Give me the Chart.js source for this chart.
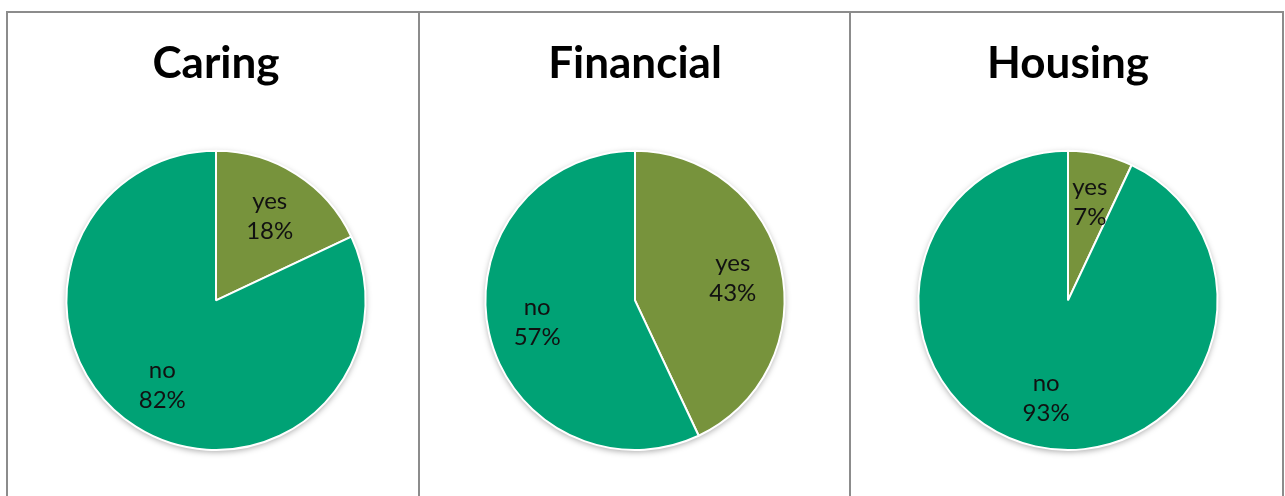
<!DOCTYPE html>
<html>
<head>
<meta charset="utf-8">
<script src="https://cdn.jsdelivr.net/npm/chart.js@4/dist/chart.umd.min.js"></script>
<style>
    body { margin: 0; background: #fff; width: 1285px; height: 496px; overflow: hidden; position: relative; }
    .panel { position: absolute; top: 11px; height: 500px; box-sizing: border-box;
             border: 2px solid #8c8c8c; border-bottom: none; }
    .panel canvas { display: block; }
</style>
</head>
<body>
<div class="panel" style="left:6px; width:414px;"><canvas id="pie1" width="410" height="483"></canvas></div>
<div class="panel" style="left:418px; width:433px;"><canvas id="pie2" width="429" height="483"></canvas></div>
<div class="panel" style="left:849px; width:435px;"><canvas id="pie3" width="431" height="483"></canvas></div>
<script>
/*
    three pies: share of "yes" / "no" answers per topic
*/
const sliceLabels = ["yes", "no"];
const caringValues = [18, 82];
const financialValues = [43, 57];
const housingValues = [7, 93];
const sliceColors = ["#77933C", "#00A275"];

/*
    pieShadow - soft shadow round the whole pie, drawn behind the slices
*/
const pieShadow = {
    id: "pieShadow",
    beforeDatasetsDraw(chart) {
        const arc = chart.getDatasetMeta(0).data[0];
        if (!arc) return;
        const p = arc.getProps(["x", "y", "outerRadius"], true);
        const ctx = chart.ctx;
        ctx.save();
        ctx.shadowColor = "rgba(0,0,0,0.35)";
        ctx.shadowBlur = 6;
        ctx.shadowOffsetY = 2;
        ctx.fillStyle = "#fff";
        ctx.beginPath();
        ctx.arc(p.x, p.y, p.outerRadius, 0, Math.PI * 2);
        ctx.fill();
        ctx.restore();
    }
};

/*
    sliceText - "label\npct%" inside each slice, on its middle angle
*/
const sliceText = {
    id: "sliceText",
    afterDatasetsDraw(chart) {
        const ctx = chart.ctx;
        const values = chart.data.datasets[0].data;
        const total = values.reduce((a, b) => a + b, 0);
        ctx.save();
        ctx.font = "24px Lato";
        ctx.fillStyle = "#111";
        ctx.textAlign = "center";
        ctx.textBaseline = "middle";
        chart.getDatasetMeta(0).data.forEach((arc, i) => {
            const p = arc.getProps(["x", "y", "startAngle", "endAngle", "outerRadius"], true);
            const mid = (p.startAngle + p.endAngle) / 2;
            const r = p.outerRadius * 0.67;
            const cx = p.x + Math.cos(mid) * r;
            const cy = p.y + Math.sin(mid) * r;
            const pct = Math.round(values[i] / total * 100) + "%";
            ctx.fillText(chart.data.labels[i], cx, cy - 15);
            ctx.fillText(pct, cx, cy + 15);
        });
        ctx.restore();
    }
};

function makePie(canvasId, title, values, padLeft) {
    return new Chart(canvasId, {
        type: "pie",
        data: {
            labels: sliceLabels,
            datasets: [{
                data: values,
                backgroundColor: sliceColors,
                borderColor: "#fff",
                borderWidth: 2
            }]
        },
        options: {
            responsive: false,
            animation: false,
            layout: { padding: { left: padLeft, bottom: 45 } },
            plugins: {
                legend: { display: false },
                tooltip: { enabled: false },
                title: {
                    display: true,
                    text: title,
                    color: "#000",
                    font: { family: "Lato", size: 44, weight: "bold", lineHeight: 1.2 },
                    padding: { top: 24, bottom: 60 }
                }
            }
        },
        plugins: [pieShadow, sliceText]
    });
}

const g1 = makePie("pie1", "Caring", caringValues, 6);
const g2 = makePie("pie2", "Financial", financialValues, 1);
const g3 = makePie("pie3", "Housing", housingValues, 3);
</script>
</body>
</html>
